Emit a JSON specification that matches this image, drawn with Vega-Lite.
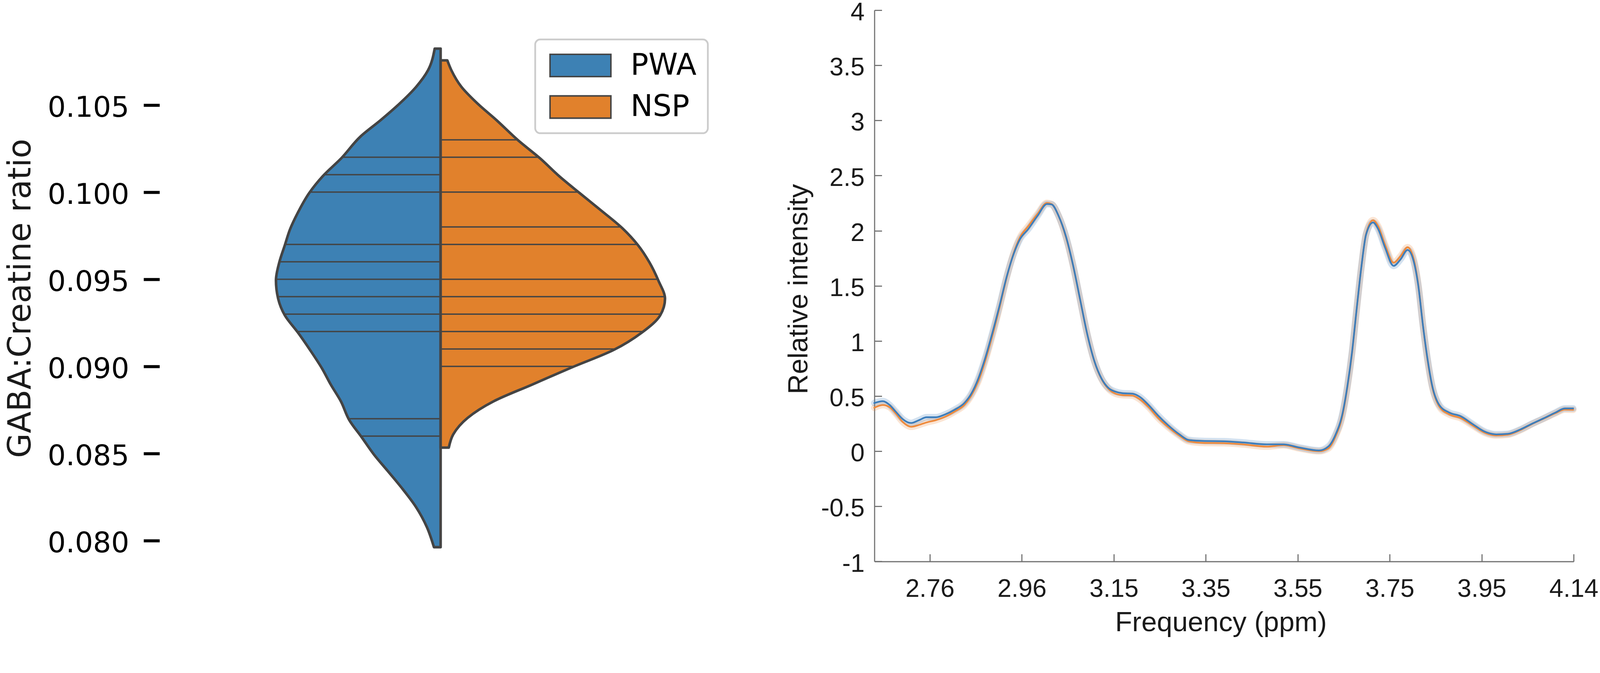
{
  "$schema": "https://vega.github.io/schema/vega-lite/v6.json",
  "background": "white",
  "autosize": {"type": "none"},
  "padding": {"left": 408.3, "top": 26.1, "right": 3687.7, "bottom": 1609.9},
  "bounds": "flush",
  "spacing": 390.2,
  "datasets": {
    "violin": [
      {"group": "PWA", "v": 0.10823, "w": -16},
      {"group": "PWA", "v": 0.10699, "w": -34},
      {"group": "PWA", "v": 0.10604, "w": -66},
      {"group": "PWA", "v": 0.10509, "w": -110},
      {"group": "PWA", "v": 0.10414, "w": -161},
      {"group": "PWA", "v": 0.10319, "w": -216},
      {"group": "PWA", "v": 0.10194, "w": -268},
      {"group": "PWA", "v": 0.10091, "w": -318},
      {"group": "PWA", "v": 0.09996, "w": -354},
      {"group": "PWA", "v": 0.09882, "w": -385},
      {"group": "PWA", "v": 0.09787, "w": -406},
      {"group": "PWA", "v": 0.09696, "w": -420},
      {"group": "PWA", "v": 0.09597, "w": -435},
      {"group": "PWA", "v": 0.09493, "w": -444},
      {"group": "PWA", "v": 0.09388, "w": -438},
      {"group": "PWA", "v": 0.09293, "w": -420},
      {"group": "PWA", "v": 0.09195, "w": -385},
      {"group": "PWA", "v": 0.09094, "w": -352},
      {"group": "PWA", "v": 0.08989, "w": -320},
      {"group": "PWA", "v": 0.08895, "w": -296},
      {"group": "PWA", "v": 0.08800, "w": -269},
      {"group": "PWA", "v": 0.08691, "w": -246},
      {"group": "PWA", "v": 0.08594, "w": -213},
      {"group": "PWA", "v": 0.08495, "w": -180},
      {"group": "PWA", "v": 0.08401, "w": -143},
      {"group": "PWA", "v": 0.08306, "w": -106},
      {"group": "PWA", "v": 0.08192, "w": -66},
      {"group": "PWA", "v": 0.08078, "w": -37},
      {"group": "PWA", "v": 0.07963, "w": -18},
      {"group": "NSP", "v": 0.10756, "w": 18},
      {"group": "NSP", "v": 0.10699, "w": 29},
      {"group": "NSP", "v": 0.10604, "w": 56},
      {"group": "NSP", "v": 0.10509, "w": 99},
      {"group": "NSP", "v": 0.10414, "w": 150},
      {"group": "NSP", "v": 0.10297, "w": 209},
      {"group": "NSP", "v": 0.10194, "w": 268},
      {"group": "NSP", "v": 0.10091, "w": 320},
      {"group": "NSP", "v": 0.09996, "w": 374},
      {"group": "NSP", "v": 0.09901, "w": 429},
      {"group": "NSP", "v": 0.09791, "w": 491},
      {"group": "NSP", "v": 0.09696, "w": 532},
      {"group": "NSP", "v": 0.09597, "w": 563},
      {"group": "NSP", "v": 0.09493, "w": 587},
      {"group": "NSP", "v": 0.09388, "w": 605},
      {"group": "NSP", "v": 0.09293, "w": 592},
      {"group": "NSP", "v": 0.09195, "w": 543},
      {"group": "NSP", "v": 0.09094, "w": 466},
      {"group": "NSP", "v": 0.08993, "w": 352},
      {"group": "NSP", "v": 0.08895, "w": 246},
      {"group": "NSP", "v": 0.08800, "w": 143},
      {"group": "NSP", "v": 0.08705, "w": 73},
      {"group": "NSP", "v": 0.08610, "w": 34},
      {"group": "NSP", "v": 0.08534, "w": 22}
    ],
    "sticks": [
      {"group": "PWA", "v": 0.102, "w": -268},
      {"group": "PWA", "v": 0.101, "w": -316},
      {"group": "PWA", "v": 0.100, "w": -354},
      {"group": "PWA", "v": 0.097, "w": -420},
      {"group": "PWA", "v": 0.096, "w": -434},
      {"group": "PWA", "v": 0.095, "w": -443},
      {"group": "PWA", "v": 0.094, "w": -441},
      {"group": "PWA", "v": 0.093, "w": -422},
      {"group": "PWA", "v": 0.092, "w": -388},
      {"group": "PWA", "v": 0.087, "w": -247},
      {"group": "PWA", "v": 0.086, "w": -214},
      {"group": "NSP", "v": 0.103, "w": 209},
      {"group": "NSP", "v": 0.102, "w": 266},
      {"group": "NSP", "v": 0.100, "w": 372},
      {"group": "NSP", "v": 0.098, "w": 488},
      {"group": "NSP", "v": 0.097, "w": 530},
      {"group": "NSP", "v": 0.095, "w": 585},
      {"group": "NSP", "v": 0.094, "w": 604},
      {"group": "NSP", "v": 0.093, "w": 594},
      {"group": "NSP", "v": 0.092, "w": 546},
      {"group": "NSP", "v": 0.091, "w": 470},
      {"group": "NSP", "v": 0.090, "w": 355}
    ],
    "spectrum": [
      {"g": "NSP", "f": 2.641, "y": 0.394},
      {"g": "NSP", "f": 2.659, "y": 0.419},
      {"g": "NSP", "f": 2.674, "y": 0.399},
      {"g": "NSP", "f": 2.687, "y": 0.342},
      {"g": "NSP", "f": 2.702, "y": 0.265},
      {"g": "NSP", "f": 2.720, "y": 0.222},
      {"g": "NSP", "f": 2.737, "y": 0.239},
      {"g": "NSP", "f": 2.753, "y": 0.261},
      {"g": "NSP", "f": 2.773, "y": 0.282},
      {"g": "NSP", "f": 2.793, "y": 0.313},
      {"g": "NSP", "f": 2.813, "y": 0.359},
      {"g": "NSP", "f": 2.834, "y": 0.419},
      {"g": "NSP", "f": 2.849, "y": 0.505},
      {"g": "NSP", "f": 2.864, "y": 0.634},
      {"g": "NSP", "f": 2.879, "y": 0.822},
      {"g": "NSP", "f": 2.894, "y": 1.046},
      {"g": "NSP", "f": 2.910, "y": 1.312},
      {"g": "NSP", "f": 2.925, "y": 1.578},
      {"g": "NSP", "f": 2.940, "y": 1.801},
      {"g": "NSP", "f": 2.953, "y": 1.938},
      {"g": "NSP", "f": 2.971, "y": 2.041},
      {"g": "NSP", "f": 2.991, "y": 2.153},
      {"g": "NSP", "f": 3.011, "y": 2.252},
      {"g": "NSP", "f": 3.021, "y": 2.242},
      {"g": "NSP", "f": 3.036, "y": 2.135},
      {"g": "NSP", "f": 3.052, "y": 1.938},
      {"g": "NSP", "f": 3.067, "y": 1.685},
      {"g": "NSP", "f": 3.082, "y": 1.378},
      {"g": "NSP", "f": 3.097, "y": 1.071},
      {"g": "NSP", "f": 3.113, "y": 0.812},
      {"g": "NSP", "f": 3.128, "y": 0.655},
      {"g": "NSP", "f": 3.143, "y": 0.565},
      {"g": "NSP", "f": 3.158, "y": 0.522},
      {"g": "NSP", "f": 3.173, "y": 0.509},
      {"g": "NSP", "f": 3.194, "y": 0.505},
      {"g": "NSP", "f": 3.209, "y": 0.474},
      {"g": "NSP", "f": 3.229, "y": 0.399},
      {"g": "NSP", "f": 3.249, "y": 0.303},
      {"g": "NSP", "f": 3.270, "y": 0.222},
      {"g": "NSP", "f": 3.295, "y": 0.141},
      {"g": "NSP", "f": 3.315, "y": 0.090},
      {"g": "NSP", "f": 3.345, "y": 0.076},
      {"g": "NSP", "f": 3.391, "y": 0.073},
      {"g": "NSP", "f": 3.432, "y": 0.062},
      {"g": "NSP", "f": 3.482, "y": 0.042},
      {"g": "NSP", "f": 3.518, "y": 0.055},
      {"g": "NSP", "f": 3.553, "y": 0.025},
      {"g": "NSP", "f": 3.594, "y": 0.000},
      {"g": "NSP", "f": 3.614, "y": 0.025},
      {"g": "NSP", "f": 3.629, "y": 0.128},
      {"g": "NSP", "f": 3.645, "y": 0.334},
      {"g": "NSP", "f": 3.655, "y": 0.580},
      {"g": "NSP", "f": 3.665, "y": 0.890},
      {"g": "NSP", "f": 3.675, "y": 1.290},
      {"g": "NSP", "f": 3.685, "y": 1.670},
      {"g": "NSP", "f": 3.695, "y": 1.970},
      {"g": "NSP", "f": 3.710, "y": 2.095},
      {"g": "NSP", "f": 3.721, "y": 2.040},
      {"g": "NSP", "f": 3.736, "y": 1.870},
      {"g": "NSP", "f": 3.754, "y": 1.710},
      {"g": "NSP", "f": 3.769, "y": 1.770},
      {"g": "NSP", "f": 3.784, "y": 1.850},
      {"g": "NSP", "f": 3.797, "y": 1.745},
      {"g": "NSP", "f": 3.807, "y": 1.510},
      {"g": "NSP", "f": 3.817, "y": 1.140},
      {"g": "NSP", "f": 3.827, "y": 0.820},
      {"g": "NSP", "f": 3.837, "y": 0.580},
      {"g": "NSP", "f": 3.852, "y": 0.405},
      {"g": "NSP", "f": 3.873, "y": 0.334},
      {"g": "NSP", "f": 3.898, "y": 0.300},
      {"g": "NSP", "f": 3.923, "y": 0.235},
      {"g": "NSP", "f": 3.949, "y": 0.168},
      {"g": "NSP", "f": 3.974, "y": 0.143},
      {"g": "NSP", "f": 3.999, "y": 0.150},
      {"g": "NSP", "f": 4.025, "y": 0.190},
      {"g": "NSP", "f": 4.050, "y": 0.245},
      {"g": "NSP", "f": 4.076, "y": 0.296},
      {"g": "NSP", "f": 4.101, "y": 0.345},
      {"g": "NSP", "f": 4.121, "y": 0.378},
      {"g": "NSP", "f": 4.139, "y": 0.376},
      {"g": "PWA", "f": 2.641, "y": 0.437},
      {"g": "PWA", "f": 2.659, "y": 0.454},
      {"g": "PWA", "f": 2.674, "y": 0.419},
      {"g": "PWA", "f": 2.687, "y": 0.359},
      {"g": "PWA", "f": 2.702, "y": 0.291},
      {"g": "PWA", "f": 2.720, "y": 0.256},
      {"g": "PWA", "f": 2.737, "y": 0.282},
      {"g": "PWA", "f": 2.753, "y": 0.308},
      {"g": "PWA", "f": 2.773, "y": 0.308},
      {"g": "PWA", "f": 2.793, "y": 0.334},
      {"g": "PWA", "f": 2.813, "y": 0.376},
      {"g": "PWA", "f": 2.834, "y": 0.437},
      {"g": "PWA", "f": 2.849, "y": 0.522},
      {"g": "PWA", "f": 2.864, "y": 0.660},
      {"g": "PWA", "f": 2.879, "y": 0.848},
      {"g": "PWA", "f": 2.894, "y": 1.071},
      {"g": "PWA", "f": 2.910, "y": 1.329},
      {"g": "PWA", "f": 2.925, "y": 1.586},
      {"g": "PWA", "f": 2.940, "y": 1.792},
      {"g": "PWA", "f": 2.953, "y": 1.921},
      {"g": "PWA", "f": 2.971, "y": 2.015},
      {"g": "PWA", "f": 2.991, "y": 2.135},
      {"g": "PWA", "f": 3.011, "y": 2.242},
      {"g": "PWA", "f": 3.021, "y": 2.238},
      {"g": "PWA", "f": 3.036, "y": 2.135},
      {"g": "PWA", "f": 3.052, "y": 1.946},
      {"g": "PWA", "f": 3.067, "y": 1.689},
      {"g": "PWA", "f": 3.082, "y": 1.380},
      {"g": "PWA", "f": 3.097, "y": 1.071},
      {"g": "PWA", "f": 3.113, "y": 0.814},
      {"g": "PWA", "f": 3.128, "y": 0.660},
      {"g": "PWA", "f": 3.143, "y": 0.574},
      {"g": "PWA", "f": 3.158, "y": 0.540},
      {"g": "PWA", "f": 3.173, "y": 0.526},
      {"g": "PWA", "f": 3.194, "y": 0.522},
      {"g": "PWA", "f": 3.209, "y": 0.496},
      {"g": "PWA", "f": 3.229, "y": 0.419},
      {"g": "PWA", "f": 3.249, "y": 0.325},
      {"g": "PWA", "f": 3.270, "y": 0.239},
      {"g": "PWA", "f": 3.295, "y": 0.153},
      {"g": "PWA", "f": 3.315, "y": 0.102},
      {"g": "PWA", "f": 3.345, "y": 0.093},
      {"g": "PWA", "f": 3.391, "y": 0.090},
      {"g": "PWA", "f": 3.432, "y": 0.079},
      {"g": "PWA", "f": 3.482, "y": 0.062},
      {"g": "PWA", "f": 3.518, "y": 0.062},
      {"g": "PWA", "f": 3.553, "y": 0.033},
      {"g": "PWA", "f": 3.594, "y": 0.007},
      {"g": "PWA", "f": 3.614, "y": 0.042},
      {"g": "PWA", "f": 3.629, "y": 0.145},
      {"g": "PWA", "f": 3.645, "y": 0.351},
      {"g": "PWA", "f": 3.655, "y": 0.591},
      {"g": "PWA", "f": 3.665, "y": 0.900},
      {"g": "PWA", "f": 3.675, "y": 1.295},
      {"g": "PWA", "f": 3.685, "y": 1.672},
      {"g": "PWA", "f": 3.695, "y": 1.964},
      {"g": "PWA", "f": 3.710, "y": 2.075},
      {"g": "PWA", "f": 3.721, "y": 2.015},
      {"g": "PWA", "f": 3.736, "y": 1.844},
      {"g": "PWA", "f": 3.754, "y": 1.681},
      {"g": "PWA", "f": 3.769, "y": 1.741},
      {"g": "PWA", "f": 3.784, "y": 1.826},
      {"g": "PWA", "f": 3.797, "y": 1.724},
      {"g": "PWA", "f": 3.807, "y": 1.500},
      {"g": "PWA", "f": 3.817, "y": 1.140},
      {"g": "PWA", "f": 3.827, "y": 0.831},
      {"g": "PWA", "f": 3.837, "y": 0.591},
      {"g": "PWA", "f": 3.852, "y": 0.419},
      {"g": "PWA", "f": 3.873, "y": 0.351},
      {"g": "PWA", "f": 3.898, "y": 0.317},
      {"g": "PWA", "f": 3.923, "y": 0.248},
      {"g": "PWA", "f": 3.949, "y": 0.179},
      {"g": "PWA", "f": 3.974, "y": 0.153},
      {"g": "PWA", "f": 3.999, "y": 0.158},
      {"g": "PWA", "f": 4.025, "y": 0.196},
      {"g": "PWA", "f": 4.050, "y": 0.248},
      {"g": "PWA", "f": 4.076, "y": 0.299},
      {"g": "PWA", "f": 4.101, "y": 0.351},
      {"g": "PWA", "f": 4.121, "y": 0.388},
      {"g": "PWA", "f": 4.139, "y": 0.388}
    ]
  },
  "hconcat": [
    {
      "width": 1439.4,
      "height": 1411.4,
      "layer": [
        {
          "data": {"name": "violin"},
          "mark": {
            "type": "area",
            "orient": "horizontal",
            "interpolate": "monotone",
            "stroke": "#444444",
            "strokeWidth": 6.6,
            "strokeJoin": "round",
            "opacity": 1
          },
          "encoding": {
            "y": {
              "field": "v",
              "type": "quantitative",
              "scale": {"domain": [0.078809, 0.110436], "nice": false, "zero": false},
              "axis": {
                "values": [0.08, 0.085, 0.09, 0.095, 0.1, 0.105],
                "format": ".3f",
                "domain": false,
                "grid": false,
                "tickSize": 40.8,
                "tickWidth": 7.6,
                "tickColor": "black",
                "labelFont": "DejaVu Sans",
                "labelFontSize": 73,
                "labelColor": "black",
                "labelPadding": 37,
                "labelOffset": 7.6,
                "labelLimit": 1000,
                "title": "GABA:Creatine ratio",
                "titleFont": "DejaVu Sans",
                "titleFontSize": 81.7,
                "titleFontWeight": "normal",
                "titleColor": "#1a1a1a",
                "titleAngle": -90,
                "titleBaseline": "alphabetic",
                "titleAlign": "center",
                "titleLimit": 3000,
                "titleX": -331,
                "titleY": 737.3
              }
            },
            "x": {
              "field": "w",
              "type": "quantitative",
              "stack": null,
              "scale": {"domain": [-758, 758], "nice": false, "zero": false},
              "axis": null
            },
            "color": {
              "field": "group",
              "type": "nominal",
              "scale": {"domain": ["PWA", "NSP"], "range": ["#3d81b4", "#e1812c"]},
              "legend": {
                "title": null,
                "orient": "none",
                "legendX": 961.8,
                "legendY": 75,
                "padding": 28.5,
                "cornerRadius": 13,
                "strokeColor": "#cccccc",
                "fillColor": "#ffffff",
                "symbolType": "M-1,-1H4.4667V1H-1Z",
                "symbolSize": 3249,
                "symbolStrokeColor": "#444444",
                "symbolStrokeWidth": 3.8,
                "symbolOpacity": 1,
                "labelFont": "DejaVu Sans",
                "labelFontSize": 76,
                "labelColor": "black",
                "labelLimit": 1000,
                "labelOffset": 139.6,
                "rowPadding": 30.4
              }
            }
          }
        },
        {
          "data": {"name": "sticks"},
          "mark": {"type": "rule", "stroke": "#444444", "strokeWidth": 3.5},
          "encoding": {
            "y": {"field": "v", "type": "quantitative"},
            "x": {"field": "w", "type": "quantitative"},
            "x2": {"datum": 0}
          }
        }
      ]
    },
    {
      "width": 1790.1,
      "height": 1411.4,
      "data": {"name": "spectrum"},
      "encoding": {
        "x": {
          "field": "f",
          "type": "quantitative",
          "scale": {"domain": [2.6413, 4.14], "nice": false, "zero": false},
          "axis": {
            "values": [2.76, 2.95714, 3.15429, 3.35143, 3.54857, 3.74571, 3.94286, 4.14],
            "labelExpr": "['2.76','2.96','3.15','3.35','3.55','3.75','3.95','4.14'][round((datum.value - 2.76) / 0.197143)]",
            "grid": false,
            "domainColor": "#707070",
            "domainWidth": 2.85,
            "tickColor": "#707070",
            "tickWidth": 2.85,
            "tickSize": -19,
            "labelFont": "Liberation Sans",
            "labelFontSize": 64.6,
            "labelColor": "#1a1a1a",
            "labelPadding": 57.9,
            "labelFlush": false,
            "labelOverlap": false,
            "labelLimit": 1000,
            "title": "Frequency (ppm)",
            "titleFont": "Liberation Sans",
            "titleFontSize": 71.2,
            "titleFontWeight": "normal",
            "titleColor": "#1a1a1a",
            "titleBaseline": "alphabetic",
            "titleLimit": 3000,
            "titleX": 886.8,
            "titleY": 178.2
          }
        },
        "y": {
          "field": "y",
          "type": "quantitative",
          "scale": {"domain": [-1, 4], "nice": false, "zero": false},
          "axis": {
            "values": [-1, -0.5, 0, 0.5, 1, 1.5, 2, 2.5, 3, 3.5, 4],
            "labelExpr": "'' + datum.value",
            "grid": false,
            "domainColor": "#707070",
            "domainWidth": 2.85,
            "tickColor": "#707070",
            "tickWidth": 2.85,
            "tickSize": -19,
            "labelFont": "Liberation Sans",
            "labelFontSize": 64.6,
            "labelColor": "#1a1a1a",
            "labelPadding": 44.6,
            "labelOffset": 6.6,
            "labelOverlap": false,
            "labelLimit": 1000,
            "title": "Relative intensity",
            "titleFont": "Liberation Sans",
            "titleFontSize": 71.2,
            "titleFontWeight": "normal",
            "titleColor": "#1a1a1a",
            "titleAngle": -90,
            "titleBaseline": "alphabetic",
            "titleAlign": "center",
            "titleLimit": 3000,
            "titleX": -171.9,
            "titleY": 713.5
          }
        },
        "color": {
          "field": "g",
          "type": "nominal",
          "scale": {"domain": ["PWA", "NSP"], "range": ["#3c7dbb", "#ee8a3c"]},
          "legend": null
        }
      },
      "layer": [
        {
          "mark": {"type": "line", "interpolate": "monotone", "strokeWidth": 17, "opacity": 0.22, "strokeCap": "round"}
        },
        {
          "mark": {"type": "line", "interpolate": "monotone", "strokeWidth": 4.3, "strokeCap": "round"}
        }
      ]
    }
  ],
  "resolve": {"scale": {"color": "independent"}},
  "config": {
    "view": {"stroke": null},
    "legend": {"strokeWidth": 4.5}
  }
}
